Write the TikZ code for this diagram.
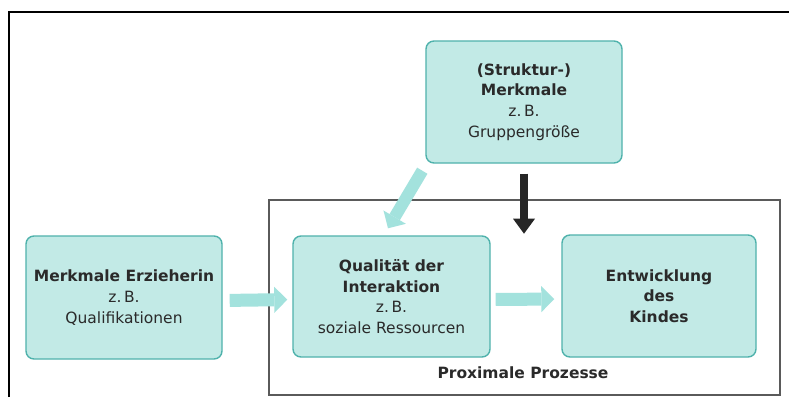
\documentclass[tikz,border=0pt]{standalone}
\usepackage{fontspec}
\setmainfont{DejaVu Sans}
\usetikzlibrary{arrows.meta}
\definecolor{boxfill}{HTML}{C2EAE6}
\definecolor{boxedge}{HTML}{4FB2AC}
\definecolor{flowcyan}{HTML}{A3E2DD}
\definecolor{inktext}{HTML}{2A2A2A}
\definecolor{framegray}{HTML}{5A5A5A}
\tikzset{
  factor/.style={draw=boxedge, fill=boxfill, line width=1.4pt, rounded corners=8pt,
    minimum width=196pt, minimum height=122pt, align=center, text=inktext,
    font=\fontsize{15.5}{20.7}\selectfont, inner sep=0pt},
  flow/.style={draw=flowcyan, line width=13pt,
    -{Triangle[width=26pt,length=13pt,line width=0pt,round=false]}},
  pushdown/.style={draw=black!85, line width=8pt,
    -{Triangle[width=22pt,length=15pt,line width=0pt]}},
}
\begin{document}
\begin{tikzpicture}[x=1pt,y=-1pt]
  \useasboundingbox (0,0) rectangle (789,397);
  \fill[white] (0,0) rectangle (789,397);

  % outer frame (only the left and top edges fall inside the page)
  \draw[line width=2pt, black] (9,397) -- (9,12) -- (789,12);

  % frame around the proximal processes
  \node[draw=framegray, line width=1.1pt, minimum width=511pt, minimum height=195pt,
        inner sep=0pt] (prox) at (524.5,297.5) {};
  \node[text=inktext, font=\bfseries\fontsize{15.5}{18}\selectfont, anchor=base]
        (proxlabel) at (523,378) {Proximale Prozesse};

  % factor boxes
  \node[factor] (struct) at (524,102)
    {\textbf{(Struktur-)}\\\textbf{Merkmale}\\z.\,B.\\Gruppengröße};
  \node[factor, minimum height=123pt] (erz) at (124,297.5)
    {\textbf{Merkmale Erzieherin}\\z.\,B.\\Qualifikationen};
  \node[factor, minimum width=197pt, minimum height=121pt] (inter) at (391.5,296.5)
    {\textbf{Qualität der}\\\textbf{Interaktion}\\z.\,B.\\soziale Ressourcen};
  \node[factor, minimum width=194pt] (kind) at (659,296)
    {\textbf{Entwicklung}\\\textbf{des}\\\textbf{Kindes}};

  % connectors
  \draw[flow, shorten <=7pt, shorten >=5pt]
    ([yshift=-3pt]erz.east) -- ([yshift=-3pt]inter.west);
  \draw[flow, shorten <=5pt, shorten >=7pt]
    ([yshift=-3pt]inter.east) -- ([yshift=-3pt]kind.west);
  \draw[flow, line width=12pt]
    ([shift={(-3,7)}]struct.south west) -- ([shift={(-3.5,-7)}]inter.north);
  \coordinate (pushtip) at ([yshift=-70pt]struct.south);
  \draw[pushdown, shorten <=10pt] (struct.south) -- (pushtip);
\end{tikzpicture}
\end{document}
